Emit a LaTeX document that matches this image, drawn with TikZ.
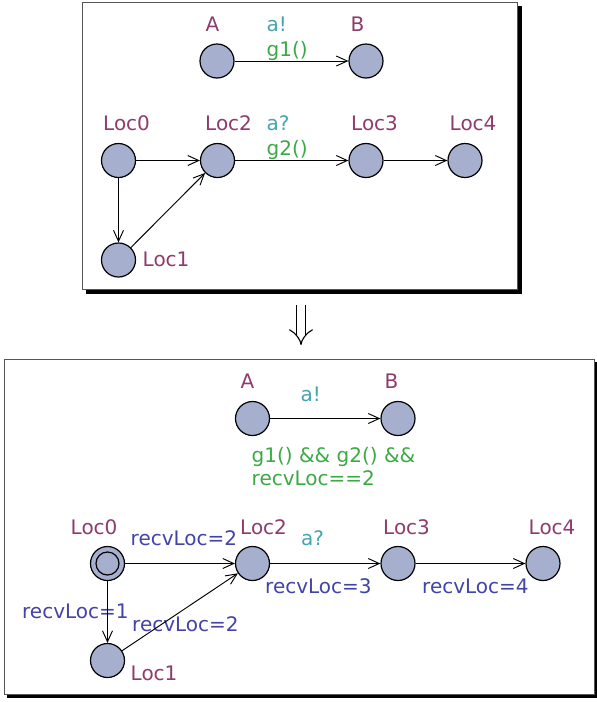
\documentclass[tikz,border=0pt]{standalone}
\usepackage{fontspec}
\setmainfont{DejaVu Sans}
\usetikzlibrary{arrows.meta}
\definecolor{locname}{HTML}{8E3B6D}
\definecolor{synccol}{HTML}{44A5AD}
\definecolor{guardcol}{HTML}{3BAA45}
\definecolor{updcol}{HTML}{4343A8}
\definecolor{nodefill}{HTML}{A6AFCE}
\definecolor{boxline}{HTML}{555555}
\begin{document}
\begin{tikzpicture}[x=1pt,y=-1pt,
  font=\fontsize{20}{24}\selectfont,
  loc/.style={circle, draw=black, fill=nodefill, line width=1.2pt, minimum size=34pt, inner sep=0pt},
  innerloc/.style={circle, draw=black, line width=1.2pt, minimum size=23pt, inner sep=0pt},
  lbl/.style={anchor=base west, inner sep=0pt},
  nm/.style={lbl, text=locname},
  sy/.style={lbl, text=synccol},
  gd/.style={lbl, text=guardcol},
  up/.style={lbl, text=updcol},
  trans/.style={line width=0.95pt, -{Straight Barb[length=11pt,width=10pt,line width=0.95pt]}},
  frame/.style={fill=white, draw=boxline, line width=1pt},
  shadowbox/.style={fill=black, draw=none}]
\useasboundingbox (0,0) rectangle (597,702);

% ---------- top box ----------
\fill[shadowbox] (86,6) rectangle (521.5,294);
\draw[frame] (82,2) rectangle (517,289);

\node[loc] (tA) at (217,61) {};
\node[loc] (tB) at (366,61) {};
\node[loc] (t0) at (118.5,160.5) {};
\node[loc] (t2) at (217.5,160.5) {};
\node[loc] (t3) at (366,160.5) {};
\node[loc] (t4) at (465,160.5) {};
\node[loc] (t1) at (118.5,260) {};

\node[nm] (tAl) at (205.5,31) {A};
\node[nm] (tBl) at (350.5,31) {B};
\node[sy] (tsa) at (266.5,31) {a!};
\node[gd] (tg1) at (266.5,56.5) {g1()};
\node[nm] (t0l) at (103,130.5) {Loc0};
\node[nm] (t2l) at (205,130.5) {Loc2};
\node[sy] (tsq) at (266.5,130.5) {a?};
\node[gd] (tg2) at (266.5,155.5) {g2()};
\node[nm] (t3l) at (351,130.5) {Loc3};
\node[nm] (t4l) at (449.5,130.5) {Loc4};
\node[nm] (t1l) at (142.5,266) {Loc1};

\draw[trans] (tA) -- (tB);
\draw[trans] (t0) -- (t2);
\draw[trans] (t2) -- (t3);
\draw[trans] (t3) -- (t4);
\draw[trans] (t0) -- (t1);
\draw[trans] (t1) -- (t2);

% ---------- implies arrow ----------
\coordinate (arrtop) at (301,305);
\coordinate (arrbot) at (301,345);
\draw[line width=1.1pt, double, double distance=7.5pt, -{Implies}] (arrtop) -- (arrbot);

% ---------- bottom box ----------
\fill[shadowbox] (7,362) rectangle (597,697.5);
\draw[frame] (4,359) rectangle (594.5,694.5);

\node[loc] (bA) at (252.5,418.5) {};
\node[loc] (bB) at (398,418.5) {};
\node[loc] (b0) at (107.5,563.5) {};
\node[innerloc] (b0in) at (107.5,563.5) {};
\node[loc] (b2) at (252.5,563.5) {};
\node[loc] (b3) at (398,563.5) {};
\node[loc] (b4) at (543,563.5) {};
\node[loc] (b1) at (107.5,660.5) {};

\node[nm] (bAl) at (240.5,388.5) {A};
\node[nm] (bBl) at (384.5,388.5) {B};
\node[sy] (bsa) at (300.5,401) {a!};
\node[gd] (bg1) at (251.5,462) {g1() \&\& g2() \&\&};
\node[gd] (bg2) at (251.5,485.5) {recvLoc==2};
\node[nm] (b0l) at (70.5,534.5) {Loc0};
\node[up] (bu02) at (130.5,545.5) {recvLoc=2};
\node[nm] (b2l) at (240,534.5) {Loc2};
\node[sy] (bsq) at (301,545.5) {a?};
\node[nm] (b3l) at (383,534.5) {Loc3};
\node[nm] (b4l) at (528.5,534.5) {Loc4};
\node[up] (bu3) at (265,593) {recvLoc=3};
\node[up] (bu4) at (422,593) {recvLoc=4};
\node[up] (bu1) at (22,618) {recvLoc=1};
\node[up] (bu12) at (132,631) {recvLoc=2};
\node[nm] (b1l) at (130.5,680) {Loc1};

\draw[trans] (bA) -- (bB);
\draw[trans] (b0) -- (b2);
\draw[trans] (b2) -- (b3);
\draw[trans] (b3) -- (b4);
\draw[trans] (b0) -- (b1);
\draw[trans] (b1) -- (b2);
\end{tikzpicture}
\end{document}
